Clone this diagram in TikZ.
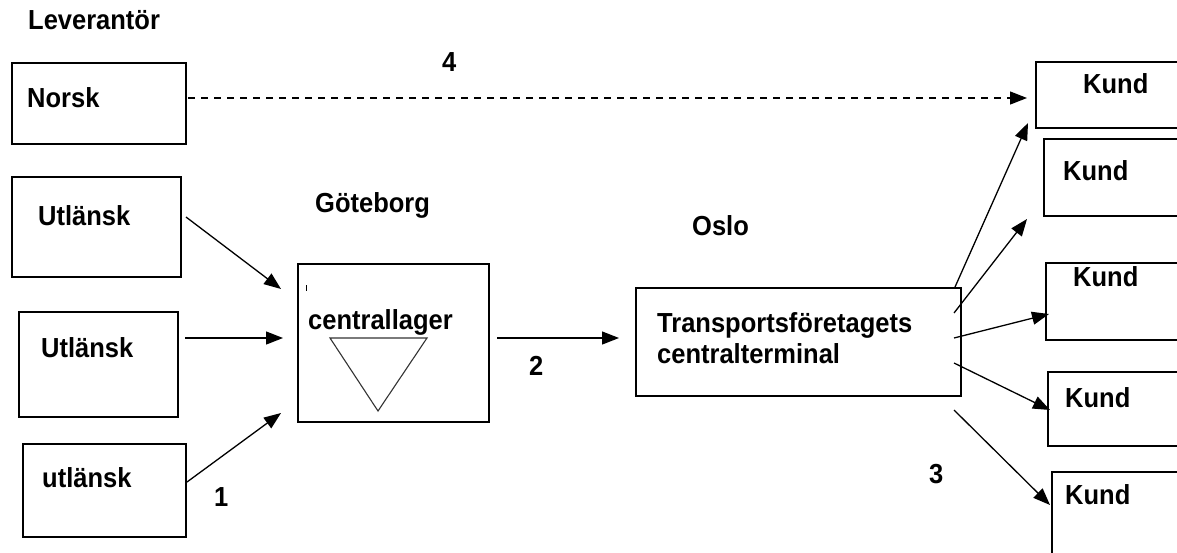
\documentclass[tikz,border=0pt]{standalone}
\usepackage{fontspec}
\setmainfont{Liberation Sans}
\usetikzlibrary{arrows.meta}
\begin{document}
\begin{tikzpicture}[x=1pt,y=-1pt,
  box/.style={draw, line width=1.5pt, anchor=north west, inner sep=0pt, outer sep=0pt},
  lbl/.style={font=\fontsize{25.5}{30}\selectfont\bfseries, anchor=base west, inner sep=0pt, yscale=1.08},
  flow/.style={line width=1.3pt, -{Triangle[length=17pt,width=13pt]}},
  flowdash/.style={flow, dash pattern=on 7pt off 6pt}]
\useasboundingbox[fill=white] (0,0) rectangle (1177,552);
\clip (0,0) rectangle (1177,552);

% supplier boxes
\node[box, minimum width=174pt, minimum height=81pt]  (norsk) at (12,63)  {};
\node[box, minimum width=169pt, minimum height=100pt] (u1)    at (12,177) {};
\node[box, minimum width=159pt, minimum height=105pt] (u2)    at (19,312) {};
\node[box, minimum width=163pt, minimum height=93pt]  (u3)    at (23,444) {};

% central warehouse and terminal
\node[box, minimum width=191pt, minimum height=158pt] (cl) at (298,264) {};
\node[box, minimum width=325pt, minimum height=108pt] (tr) at (636,288) {};

% customers
\node[box, minimum width=154pt, minimum height=66pt] (k1) at (1036,62)  {};
\node[box, minimum width=146pt, minimum height=77pt] (k2) at (1044,139) {};
\node[box, minimum width=144pt, minimum height=77pt] (k3) at (1046,263) {};
\node[box, minimum width=142pt, minimum height=74pt] (k4) at (1048,372) {};
\node[box, minimum width=138pt, minimum height=90pt] (k5) at (1052,472) {};

% texts
\node[lbl] (tlev)  at (28,29)   {Leverantör};
\node[lbl] (tnor)  at (27,107)  {Norsk};
\node[lbl] (tu1)   at (38,225)  {Utlänsk};
\node[lbl] (tu2)   at (41,357)  {Utlänsk};
\node[lbl] (tu3)   at (42,487)  {utlänsk};
\node[lbl] (tgbg)  at (315,212) {Göteborg};
\node[lbl] (toslo) at (692,235) {Oslo};
\node[lbl] (tcl)   at (308,329) {centrallager};
\node[lbl] (ttr1)  at (657,332) {Transportsföretagets};
\node[lbl] (ttr2)  at (657,363) {centralterminal};
\node[lbl] (tk1)   at (1083,93)  {Kund};
\node[lbl] (tk2)   at (1063,180) {Kund};
\node[lbl] (tk3)   at (1073,286) {Kund};
\node[lbl] (tk4)   at (1065,407) {Kund};
\node[lbl] (tk5)   at (1065,504) {Kund};
\node[lbl] (n1)    at (214,506) {1};
\node[lbl] (n2)    at (529,375) {2};
\node[lbl] (n3)    at (929,483) {3};
\node[lbl] (n4)    at (442,71)  {4};

% stock symbol inside the warehouse
\draw[line width=1.1pt, black!80, line join=miter] (330,338) -- (427,338) -- (378,411) -- cycle;
\draw[line width=1pt] (306,285) -- (306,291);

% connector end points
\coordinate (dA) at (188,98);   \coordinate (dB) at (1027,98);
\coordinate (a1) at (186,217);  \coordinate (b1) at (281,289);
\coordinate (a2) at (185,338);  \coordinate (b2) at (283,338);
\coordinate (a3) at (187,482);  \coordinate (b3) at (281,413);
\coordinate (a4) at (497,338);  \coordinate (b4) at (619,338);
\coordinate (c1) at (955,287);  \coordinate (e1) at (1028,123);
\coordinate (c2) at (954,313);  \coordinate (e2) at (1027,219);
\coordinate (c3) at (954,338);  \coordinate (e3) at (1049,314);
\coordinate (c4) at (954,363);  \coordinate (e4) at (1050,410);
\coordinate (c5) at (954,410);  \coordinate (e5) at (1050,505);

% flows
\draw[flowdash] (dA) -- (dB);
\draw[flow] (a1) -- (b1);
\draw[flow] (a2) -- (b2);
\draw[flow] (a3) -- (b3);
\draw[flow] (a4) -- (b4);
\draw[flow] (c1) -- (e1);
\draw[flow] (c2) -- (e2);
\draw[flow] (c3) -- (e3);
\draw[flow] (c4) -- (e4);
\draw[flow] (c5) -- (e5);
\end{tikzpicture}
\end{document}
